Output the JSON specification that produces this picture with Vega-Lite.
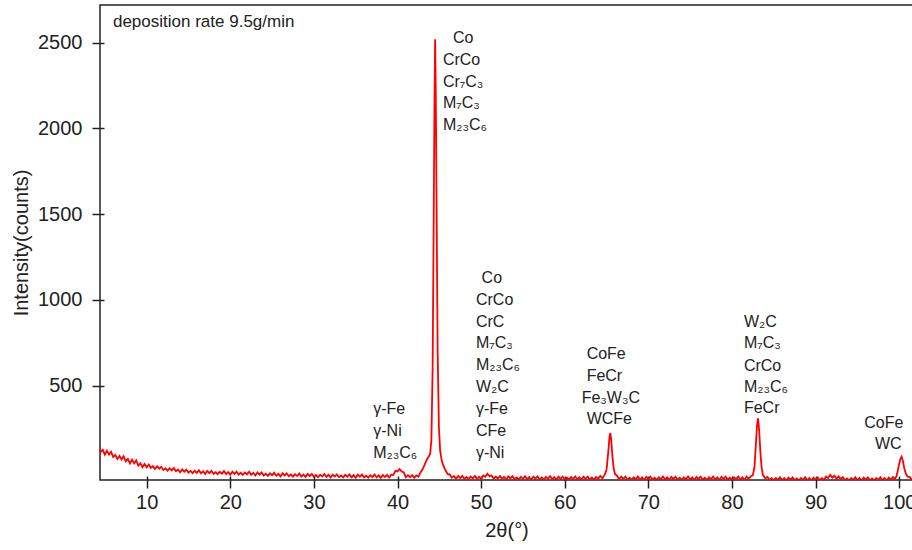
{
  "$schema": "https://vega.github.io/schema/vega-lite/v6.json",
  "width": 813,
  "height": 475,
  "autosize": "none",
  "padding": {"left": 100, "top": 5, "right": 0, "bottom": 70},
  "background": "white",
  "config": {"view": {"stroke": "#222222", "strokeWidth": 1.5}, "font": "Liberation Sans"},
  "datasets": {
    "xrd": [
      {"t":4.4,"i":140},{"t":4.5,"i":113},{"t":4.75,"i":126},{"t":5.0,"i":98},{"t":5.25,"i":121},{"t":5.5,"i":98},{"t":5.75,"i":114},{"t":6.0,"i":84},{"t":6.25,"i":96},{"t":6.5,"i":73},{"t":6.75,"i":91},{"t":7.0,"i":70},{"t":7.25,"i":89},{"t":7.5,"i":59},{"t":7.75,"i":73},{"t":8.0,"i":46},{"t":8.25,"i":69},{"t":8.5,"i":47},{"t":8.75,"i":64},{"t":9.0,"i":34},{"t":9.25,"i":47},{"t":9.5,"i":25},{"t":9.75,"i":44},{"t":10.0,"i":24},
      {"t":10.25,"i":40},{"t":10.5,"i":21},{"t":10.75,"i":31},{"t":11.0,"i":14},{"t":11.25,"i":30},{"t":11.5,"i":16},{"t":11.75,"i":27},{"t":12.0,"i":9},
      {"t":12.25,"i":18},{"t":12.5,"i":5},{"t":12.75,"i":18},{"t":13.0,"i":6},{"t":13.25,"i":20},{"t":13.5,"i":1},{"t":13.75,"i":11},{"t":14.0,"i":-5},{"t":14.25,"i":12},{"t":14.5,"i":-1},{"t":14.75,"i":11},{"t":15.0,"i":-7},{"t":15.25,"i":3},{"t":15.5,"i":-10},{"t":15.75,"i":4},{"t":16.0,"i":-8},{"t":16.25,"i":7},{"t":16.5,"i":-11},{"t":16.75,"i":1},{"t":17.0,"i":-15},{"t":17.25,"i":3},{"t":17.5,"i":-10},{"t":17.75,"i":3},{"t":18.0,"i":-14},{"t":18.25,"i":-4},{"t":18.5,"i":-16},{"t":18.75,"i":-2},{"t":19.0,"i":-13},{"t":19.25,"i":2},{"t":19.5,"i":-16},{"t":19.75,"i":-4},{"t":20.0,"i":-19},
      {"t":20.25,"i":-1},{"t":20.5,"i":-14},{"t":20.75,"i":-1},{"t":21.0,"i":-19},{"t":21.25,"i":-8},{"t":21.5,"i":-20},{"t":21.75,"i":-6},{"t":22.0,"i":-17},{"t":22.25,"i":-2},{"t":22.5,"i":-20},{"t":22.75,"i":-8},{"t":23.0,"i":-24},{"t":23.25,"i":-6},{"t":23.5,"i":-19},{"t":23.75,"i":-6},{"t":24.0,"i":-24},{"t":24.25,"i":-13},{"t":24.5,"i":-26},{"t":24.75,"i":-11},{"t":25.0,"i":-22},{"t":25.25,"i":-8},{"t":25.5,"i":-25},{"t":25.75,"i":-14},{"t":26.0,"i":-29},{"t":26.25,"i":-11},{"t":26.5,"i":-24},{"t":26.75,"i":-11},{"t":27.0,"i":-28},{"t":27.25,"i":-18},{"t":27.5,"i":-30},{"t":27.75,"i":-16},{"t":28.0,"i":-27},{"t":28.25,"i":-12},{"t":28.5,"i":-30},{"t":28.75,"i":-18},{"t":29.0,"i":-33},{"t":29.25,"i":-15},{"t":29.5,"i":-28},{"t":29.75,"i":-15},{"t":30.0,"i":-32},
      {"t":30.25,"i":-21},{"t":30.5,"i":-34},{"t":30.75,"i":-19},{"t":31.0,"i":-30},{"t":31.25,"i":-15},{"t":31.5,"i":-32},{"t":31.75,"i":-20},{"t":32.0,"i":-35},{"t":32.25,"i":-18},{"t":32.5,"i":-30},{"t":32.75,"i":-17},{"t":33.0,"i":-34},{"t":33.25,"i":-23},{"t":33.5,"i":-35},{"t":33.75,"i":-20},{"t":34.0,"i":-31},{"t":34.25,"i":-17},{"t":34.5,"i":-34},{"t":34.75,"i":-22},{"t":35.0,"i":-37},{"t":35.25,"i":-19},{"t":35.5,"i":-31},{"t":35.75,"i":-18},{"t":36.0,"i":-35},{"t":36.25,"i":-25},{"t":36.5,"i":-37},{"t":36.75,"i":-22},{"t":37.0,"i":-33},{"t":37.25,"i":-18},{"t":37.5,"i":-35},{"t":37.75,"i":-23},{"t":38.0,"i":-38},{"t":38.25,"i":-21},{"t":38.5,"i":-33},{"t":38.75,"i":-20},{"t":39.0,"i":-36},
      {"t":39.25,"i":-19},{"t":39.5,"i":-21},{"t":39.75,"i":4},{"t":40.0,"i":0},{"t":40.25,"i":13},{"t":40.5,"i":-1},{"t":40.75,"i":-5},{"t":41.0,"i":-34},{"t":41.25,"i":-22},{"t":41.5,"i":-34},{"t":41.75,"i":-21},{"t":42.0,"i":-37},{"t":42.25,"i":-23},{"t":42.5,"i":-31},{"t":42.75,"i":-6},{"t":43.0,"i":12},{"t":43.25,"i":40},{"t":43.5,"i":68},{"t":43.75,"i":88},{"t":43.9,"i":100},{"t":44.05,"i":180},{"t":44.2,"i":600},{"t":44.32,"i":1400},{"t":44.42,"i":2150},{"t":44.5,"i":2520},{"t":44.58,"i":2200},{"t":44.68,"i":1500},{"t":44.8,"i":700},{"t":44.95,"i":260},{"t":45.1,"i":120},{"t":45.3,"i":60},{"t":45.5,"i":32},{"t":45.75,"i":5},{"t":46.0,"i":-15},
      {"t":46.25,"i":-18},{"t":46.5,"i":-37},{"t":46.75,"i":-27},{"t":47.0,"i":-43},{"t":47.25,"i":-26},{"t":47.5,"i":-39},{"t":47.75,"i":-26},{"t":48.0,"i":-44},{"t":48.25,"i":-33},{"t":48.5,"i":-45},{"t":48.75,"i":-30},{"t":49.0,"i":-41},{"t":49.25,"i":-26},{"t":49.5,"i":-43},{"t":49.75,"i":-31},{"t":50.0,"i":-45},{"t":50.25,"i":-24},{"t":50.5,"i":-31},{"t":50.75,"i":-13},{"t":51.0,"i":-28},{"t":51.25,"i":-24},{"t":51.5,"i":-42},{"t":51.75,"i":-30},{"t":52.0,"i":-42},
      {"t":52.25,"i":-27},{"t":52.5,"i":-44},{"t":52.75,"i":-32},{"t":53.0,"i":-47},{"t":53.25,"i":-29},{"t":53.5,"i":-41},{"t":53.75,"i":-28},{"t":54.0,"i":-45},{"t":54.25,"i":-35},{"t":54.5,"i":-47},{"t":54.75,"i":-32},{"t":55.0,"i":-43},{"t":55.25,"i":-28},{"t":55.5,"i":-45},{"t":55.75,"i":-33},{"t":56.0,"i":-48},{"t":56.25,"i":-30},{"t":56.5,"i":-42},{"t":56.75,"i":-29},{"t":57.0,"i":-46},{"t":57.25,"i":-35},{"t":57.5,"i":-47},{"t":57.75,"i":-32},{"t":58.0,"i":-43},{"t":58.25,"i":-28},{"t":58.5,"i":-45},{"t":58.75,"i":-33},{"t":59.0,"i":-48},{"t":59.25,"i":-31},{"t":59.5,"i":-43},{"t":59.75,"i":-30},{"t":60.0,"i":-47},{"t":60.25,"i":-36},{"t":60.5,"i":-48},{"t":60.75,"i":-33},{"t":61.0,"i":-44},{"t":61.25,"i":-29},{"t":61.5,"i":-46},{"t":61.75,"i":-34},{"t":62.0,"i":-49},{"t":62.25,"i":-31},{"t":62.5,"i":-43},{"t":62.75,"i":-30},{"t":63.0,"i":-47},{"t":63.25,"i":-36},{"t":63.5,"i":-48},{"t":63.75,"i":-33},{"t":64.0,"i":-43},{"t":64.25,"i":-26},{"t":64.5,"i":-40},{"t":64.75,"i":-22},
      {"t":65.0,"i":10},{"t":65.2,"i":110},{"t":65.35,"i":200},{"t":65.45,"i":224},{"t":65.55,"i":190},{"t":65.7,"i":90},{"t":65.85,"i":20},{"t":66.0,"i":-15},{"t":66.25,"i":-25},{"t":66.5,"i":-46},{"t":66.75,"i":-30},{"t":67.0,"i":-43},
      {"t":67.25,"i":-31},{"t":67.5,"i":-48},{"t":67.75,"i":-37},{"t":68.0,"i":-49},{"t":68.25,"i":-34},{"t":68.5,"i":-45},{"t":68.75,"i":-30},{"t":69.0,"i":-47},{"t":69.25,"i":-35},{"t":69.5,"i":-50},{"t":69.75,"i":-32},{"t":70.0,"i":-44},{"t":70.25,"i":-31},{"t":70.5,"i":-48},{"t":70.75,"i":-37},{"t":71.0,"i":-49},{"t":71.25,"i":-34},{"t":71.5,"i":-45},{"t":71.75,"i":-30},{"t":72.0,"i":-47},{"t":72.25,"i":-35},{"t":72.5,"i":-50},{"t":72.75,"i":-32},{"t":73.0,"i":-44},{"t":73.25,"i":-31},{"t":73.5,"i":-48},{"t":73.75,"i":-37},{"t":74.0,"i":-49},{"t":74.25,"i":-34},{"t":74.5,"i":-45},{"t":74.75,"i":-30},{"t":75.0,"i":-47},{"t":75.25,"i":-35},{"t":75.5,"i":-50},{"t":75.75,"i":-32},{"t":76.0,"i":-44},{"t":76.25,"i":-31},{"t":76.5,"i":-48},{"t":76.75,"i":-37},{"t":77.0,"i":-49},{"t":77.25,"i":-34},{"t":77.5,"i":-45},{"t":77.75,"i":-30},{"t":78.0,"i":-47},{"t":78.25,"i":-35},{"t":78.5,"i":-50},{"t":78.75,"i":-32},{"t":79.0,"i":-44},{"t":79.25,"i":-31},{"t":79.5,"i":-48},{"t":79.75,"i":-37},{"t":80.0,"i":-49},{"t":80.25,"i":-34},{"t":80.5,"i":-45},{"t":80.75,"i":-30},{"t":81.0,"i":-47},{"t":81.25,"i":-35},{"t":81.5,"i":-50},{"t":81.75,"i":-31},{"t":82.0,"i":-42},{"t":82.25,"i":-29},
      {"t":82.5,"i":-22},{"t":82.7,"i":30},{"t":82.85,"i":150},{"t":83.0,"i":270},{"t":83.12,"i":310},{"t":83.25,"i":240},{"t":83.4,"i":110},{"t":83.55,"i":20},{"t":83.7,"i":-20},{"t":83.9,"i":-35},{"t":84.0,"i":-40},
      {"t":84.25,"i":-32},{"t":84.5,"i":-50},{"t":84.75,"i":-40},{"t":85.0,"i":-52},{"t":85.25,"i":-38},{"t":85.5,"i":-49},{"t":85.75,"i":-34},{"t":86.0,"i":-51},{"t":86.25,"i":-39},{"t":86.5,"i":-54},{"t":86.75,"i":-36},{"t":87.0,"i":-48},{"t":87.25,"i":-35},{"t":87.5,"i":-52},{"t":87.75,"i":-41},{"t":88.0,"i":-53},{"t":88.25,"i":-38},{"t":88.5,"i":-49},{"t":88.75,"i":-34},{"t":89.0,"i":-51},{"t":89.25,"i":-39},{"t":89.5,"i":-54},{"t":89.75,"i":-36},{"t":90.0,"i":-48},{"t":90.25,"i":-35},{"t":90.5,"i":-52},{"t":90.75,"i":-40},{"t":91.0,"i":-49},{"t":91.25,"i":-30},{"t":91.5,"i":-38},{"t":91.75,"i":-20},{"t":92.0,"i":-36},{"t":92.25,"i":-25},{"t":92.5,"i":-43},{"t":92.75,"i":-29},{"t":93.0,"i":-44},{"t":93.25,"i":-33},{"t":93.5,"i":-52},{"t":93.75,"i":-41},{"t":94.0,"i":-53},{"t":94.25,"i":-38},{"t":94.5,"i":-49},{"t":94.75,"i":-34},{"t":95.0,"i":-51},{"t":95.25,"i":-39},{"t":95.5,"i":-54},{"t":95.75,"i":-36},{"t":96.0,"i":-48},{"t":96.25,"i":-35},{"t":96.5,"i":-52},{"t":96.75,"i":-41},{"t":97.0,"i":-53},{"t":97.25,"i":-38},{"t":97.5,"i":-49},{"t":97.75,"i":-34},{"t":98.0,"i":-51},{"t":98.25,"i":-39},{"t":98.5,"i":-54},{"t":98.75,"i":-36},{"t":99.0,"i":-48},{"t":99.25,"i":-33},{"t":99.5,"i":-44},
      {"t":99.7,"i":-25},{"t":99.85,"i":10},{"t":100.0,"i":45},{"t":100.15,"i":75},{"t":100.29,"i":86},{"t":100.45,"i":60},{"t":100.6,"i":20},{"t":100.8,"i":-15},{"t":101.0,"i":-30},{"t":101.25,"i":-32},{"t":101.5,"i":-48},{"t":101.75,"i":-35}
    ],
    "labels": [
      {"x":46.63,"y":2526,"text":"Co"},
      {"x":45.43,"y":2399,"text":"CrCo"},
      {"x":45.43,"y":2272,"text":"Cr₇C₃"},
      {"x":45.43,"y":2147,"text":"M₇C₃"},
      {"x":45.43,"y":2020,"text":"M₂₃C₆"},
      {"x":50.06,"y":1126,"text":"Co"},
      {"x":49.38,"y":1000,"text":"CrCo"},
      {"x":49.38,"y":873,"text":"CrC"},
      {"x":49.38,"y":747,"text":"M₇C₃"},
      {"x":49.38,"y":621,"text":"M₂₃C₆"},
      {"x":49.38,"y":494,"text":"W₂C"},
      {"x":49.38,"y":362,"text":"γ-Fe"},
      {"x":49.38,"y":237,"text":"CFe"},
      {"x":49.38,"y":109,"text":"γ-Ni"},
      {"x":37.1,"y":362,"text":"γ-Fe"},
      {"x":37.1,"y":234,"text":"γ-Ni"},
      {"x":37.1,"y":109,"text":"M₂₃C₆"},
      {"x":62.62,"y":685,"text":"CoFe"},
      {"x":62.62,"y":556,"text":"FeCr"},
      {"x":62.02,"y":426,"text":"Fe₃W₃C"},
      {"x":62.62,"y":304,"text":"WCFe"},
      {"x":81.43,"y":873,"text":"W₂C"},
      {"x":81.43,"y":747,"text":"M₇C₃"},
      {"x":81.43,"y":616,"text":"CrCo"},
      {"x":81.43,"y":491,"text":"M₂₃C₆"},
      {"x":81.43,"y":368,"text":"FeCr"},
      {"x":95.82,"y":284,"text":"CoFe"},
      {"x":97.1,"y":160,"text":"WC"}
    ],
    "note": [
      {"x":5.97,"y":2622,"text":"deposition rate 9.5g/min"}
    ]
  },
  "layer": [
    {
      "data": {"name": "xrd"},
      "mark": {"type": "line", "color": "#ff0000", "strokeWidth": 1.8, "clip": true},
      "encoding": {
        "x": {
          "field": "t", "type": "quantitative",
          "scale": {"domain": [4.42, 101.65], "nice": false, "zero": false},
          "axis": {
            "title": "2θ(°)", "values": [10,20,30,40,50,60,70,80,90,100], "format": "d",
            "offset": -4, "tickSize": 12, "tickWidth": 1.5, "tickColor": "#222222",
            "domain": false, "grid": false, "labelFlush": false, "labelOverlap": false,
            "labelFontSize": 20, "labelFont": "Liberation Sans", "labelColor": "#222222", "labelPadding": 4,
            "titleFontSize": 20, "titleFont": "Liberation Sans", "titleFontWeight": "normal", "titleColor": "#222222", "titlePadding": 8
          }
        },
        "y": {
          "field": "i", "type": "quantitative",
          "scale": {"domain": [-50, 2720], "nice": false, "zero": false},
          "axis": {
            "title": "Intensity(counts)", "values": [500,1000,1500,2000,2500], "format": "d",
            "offset": -4, "tickSize": 12, "tickWidth": 1.5, "tickColor": "#222222",
            "domain": false, "grid": false, "labelFlush": false, "labelOverlap": false,
            "labelFontSize": 20, "labelFont": "Liberation Sans", "labelColor": "#222222", "labelPadding": 10,
            "titleFontSize": 20, "titleFont": "Liberation Sans", "titleFontWeight": "normal", "titleColor": "#222222", "titlePadding": 6
          }
        }
      }
    },
    {
      "data": {"name": "labels"},
      "mark": {"type": "text", "align": "left", "baseline": "middle", "fontSize": 16, "font": "Liberation Sans", "color": "#222222"},
      "encoding": {
        "x": {"field": "x", "type": "quantitative"},
        "y": {"field": "y", "type": "quantitative"},
        "text": {"field": "text"}
      }
    },
    {
      "data": {"name": "note"},
      "mark": {"type": "text", "align": "left", "baseline": "middle", "fontSize": 17, "font": "Liberation Sans", "color": "#222222"},
      "encoding": {
        "x": {"field": "x", "type": "quantitative"},
        "y": {"field": "y", "type": "quantitative"},
        "text": {"field": "text"}
      }
    }
  ]
}
